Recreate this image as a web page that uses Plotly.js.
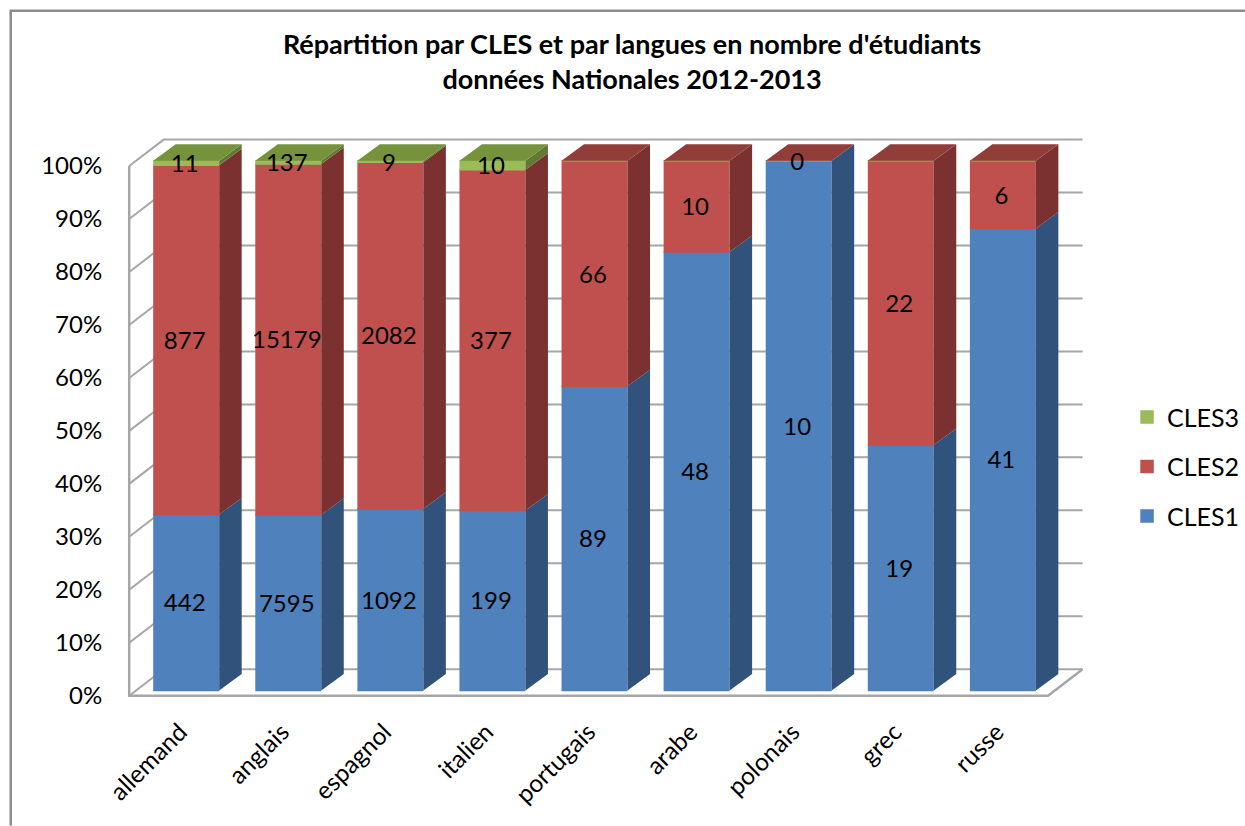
<!DOCTYPE html>
<html><head><meta charset="utf-8">
<script src="https://cdn.plot.ly/plotly-3.0.1.min.js"></script>
<style>html,body{margin:0;padding:0;background:#fff}#c{width:1245px;height:826px}</style>
</head><body><div id="c"></div>
<script>
const categories = ['allemand','anglais','espagnol','italien','portugais','arabe','polonais','grec','russe'];
const cles1 = [442,7595,1092,199,89,48,10,19,41];
const cles2 = [877,15179,2082,377,66,10,0,22,6];
const cles3 = [11,137,9,10,null,null,null,null,null];
const yTicks = [0,10,20,30,40,50,60,70,80,90,100];
const seriesNames = ['CLES1','CLES2','CLES3'];
const legendRanks = [3,2,1];
const frontColors = ['#4F81BD','#C0504D','#9BBB59'];
const sideColors = ['#31527A','#7A312F','#5F7A33'];
const topColors = ['#3F6797','#913E3B','#76923C'];

const pxX = 102.1, pxY = 5.3, ox = 129, oy = 696;
const xMin = -0.1, xMax = 9.5, yMin = -1, yMax = 107;
const l = ox + xMin*pxX, r = 1245 - (ox + xMax*pxX), t = oy - yMax*pxY, b = 826 - (oy - yMin*pxY);
const font = 'Lato, "Open Sans", sans-serif';

const xc = categories.map((_, i) => i + 57/pxX);
const lineW = 1.5;
const barW = (66-lineW)/pxX, depthX = 22.5/pxX, depthY = 16.5/pxY, lift = 1;
const wallX = 34.5/pxX, wallY = 5, floorRight = 919/pxX;

const series = [cles1, cles2, cles3];
const totals = categories.map((_, i) => series.reduce((s, a) => s + (a[i] || 0), 0));
const traces = [];
const bases = series.map(() => []);
const pcts = series.map(() => []);
categories.forEach((_, i) => {
  let c = lift;
  series.forEach((a, s) => {
    const p = (a[i] || 0) / totals[i] * 100;
    bases[s][i] = c; pcts[s][i] = p; c += p;
  });
});
// fronts
series.forEach((a, s) => traces.push({
  type:'bar', name:seriesNames[s], legendgroup:seriesNames[s], legendrank:legendRanks[s], x:xc, y:pcts[s], base:bases[s], width:barW,
  marker:{color:frontColors[s], line:{color:frontColors[s], width:lineW}}, hoverinfo:'skip'
}));
// side faces
series.forEach((a, s) => {
  const X = [], Y = [];
  categories.forEach((_, i) => {
    if (a[i] === null) return;
    const xr = xc[i] + barW/2 + lineW/2/pxX, b0 = bases[s][i], t0 = b0 + pcts[s][i];
    X.push(xr, xr+depthX, xr+depthX, xr, xr, null);
    Y.push(b0, b0+depthY, t0+depthY, t0, b0, null);
  });
  traces.push({type:'scatter', mode:'lines', x:X, y:Y, fill:'toself', fillcolor:sideColors[s],
    line:{width:0, color:sideColors[s]}, showlegend:false, hoverinfo:'skip'});
});
// top faces, coloured by the highest series present
series.forEach((a, s) => {
  const X = [], Y = [];
  categories.forEach((_, i) => {
    let top = -1;
    series.forEach((q, k) => { if (q[i] !== null) top = k; });
    if (top !== s) return;
    const e = lineW/2/pxX;
    const xl = xc[i] - barW/2 - e, xr = xc[i] + barW/2 + e, y0 = bases[s][i] + pcts[s][i];
    X.push(xl, xl+depthX, xr+depthX, xr, xl, null);
    Y.push(y0, y0+depthY, y0+depthY, y0, y0, null);
  });
  if (X.length) traces.push({type:'scatter', mode:'lines', x:X, y:Y, fill:'toself', fillcolor:topColors[s],
    line:{width:0, color:topColors[s]}, showlegend:false, hoverinfo:'skip'});
});
// value labels
series.forEach((a, s) => {
  const X = [], Y = [], T = [];
  categories.forEach((_, i) => {
    if (a[i] === null) return;
    X.push(xc[i] - 1.5/pxX); Y.push(bases[s][i] + pcts[s][i]/2 - 3/pxY); T.push(String(a[i]));
  });
  traces.push({type:'scatter', mode:'text', x:X, y:Y, text:T, textposition:'middle center',
    textfont:{family:font, size:24, color:'#000'}, cliponaxis:false, showlegend:false, hoverinfo:'skip'});
});

const gridGrey = '#A6A6A6';
const shapes = yTicks.map(v => ({
  type:'path', xref:'x', yref:'y', layer:'below',
  path:`M0,${v} L${wallX},${v+wallY} L${floorRight+wallX},${v+wallY}`,
  line:{color:gridGrey, width:2}
}));
shapes.push({type:'path', xref:'x', yref:'y', layer:'below',
  path:`M0,100 L0,0 L${floorRight},0 L${floorRight+wallX},${wallY}`, line:{color:gridGrey, width:2.5}});
// picture frame
const pw = 1245 - l - r, ph = 826 - t - b;
const fx = p => (p - l)/pw, fy = p => 1 - (p - t)/ph;
shapes.push({type:'path', xref:'paper', yref:'paper', layer:'below',
  path:`M${fx(10.5)},${fy(826)} L${fx(10.5)},${fy(10.5)} L${fx(1245)},${fy(10.5)}`, line:{color:'#8C8C8C', width:2.5}});

const layout = {
  width:1245, height:826, barmode:'overlay', paper_bgcolor:'#fff', plot_bgcolor:'rgba(0,0,0,0)',
  margin:{l, r, t, b, pad:0, autoexpand:false}, showlegend:true,
  title:{text:"Répartition par CLES et par langues en nombre d'étudiants<br>données Nationales 2012-2013",
    font:{family:font, size:27, color:'#000', weight:700}, x:632/1245, xanchor:'center', xref:'container', y:1-53.5/826, yanchor:'middle', yref:'container'},
  xaxis:{range:[xMin,xMax], tickmode:'array', tickvals:xc.map(v=>v-0.06), ticktext:categories, tickangle:-45,
    showgrid:false, zeroline:false, showline:false, ticks:'outside', ticklen:6, tickcolor:'rgba(0,0,0,0)',
    tickfont:{family:font, size:24.5, color:'#000'}, fixedrange:true, automargin:false},
  yaxis:{range:[yMin,yMax], tickmode:'array', tickvals:yTicks, ticktext:yTicks.map(v=>v+'%'),
    showgrid:false, zeroline:false, showline:false, ticks:'outside', ticklen:11, tickcolor:'rgba(0,0,0,0)',
    tickfont:{family:font, size:24, color:'#000'}, fixedrange:true, automargin:false},
  legend:{x:fx(1127), xanchor:'left', y:fy(467), yanchor:'middle', traceorder:'grouped', tracegroupgap:14,
    font:{family:font, size:25, color:'#000'}, bgcolor:'rgba(0,0,0,0)', itemclick:false, itemdoubleclick:false},
  shapes
};
Plotly.newPlot('c', traces, layout, {displayModeBar:false, staticPlot:true});
</script></body></html>
